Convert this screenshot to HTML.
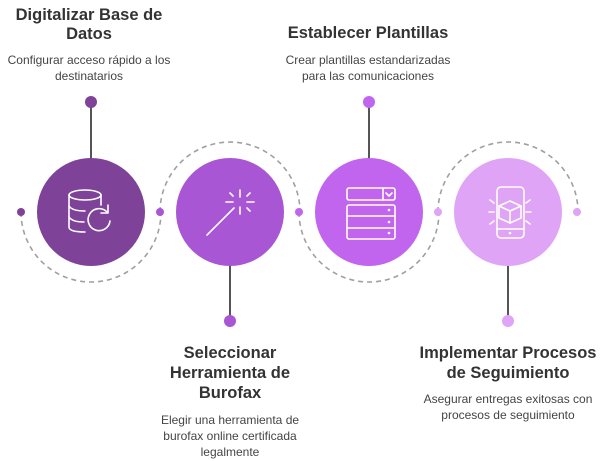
<!DOCTYPE html>
<html><head><meta charset="utf-8"><style>
html,body{margin:0;padding:0;background:#fff;}
svg{display:block;font-family:"Liberation Sans",sans-serif;}
.t{font-size:16.5px;font-weight:bold;fill:#333;text-anchor:middle;}
.d{font-size:12px;fill:#444;text-anchor:middle;}
.ic{fill:none;stroke:#fff;stroke-width:1.6;stroke-linecap:round;stroke-linejoin:round;}
</style></head><body>
<svg width="600" height="461" viewBox="0 0 600 461">
<g fill="none" stroke="#a0a0a0" stroke-width="1.6" stroke-dasharray="5,4">
<path d="M21 212 A70 70 0 0 0 161 212"/>
<path d="M160 212 A70 70 0 0 1 300 212"/>
<path d="M299 212 A70 70 0 0 0 439 212"/>
<path d="M438 212 A70 70 0 0 1 578 212"/>
</g>
<g stroke="#555" stroke-width="2">
<line x1="91" y1="102" x2="91" y2="160"/>
<line x1="230" y1="264" x2="230" y2="320"/>
<line x1="369" y1="102" x2="369" y2="160"/>
<line x1="508" y1="264" x2="508" y2="320"/>
</g>
<circle cx="91" cy="212" r="54" fill="#7e4399"/>
<circle cx="230" cy="212" r="54" fill="#a956d5"/>
<circle cx="369" cy="212" r="54" fill="#c165ef"/>
<circle cx="508" cy="212" r="54" fill="#dfa4f6"/>
<circle cx="21" cy="212" r="4" fill="#7e4399"/>
<circle cx="160" cy="212" r="4" fill="#a956d5"/>
<circle cx="299" cy="212" r="4" fill="#c165ef"/>
<circle cx="438" cy="212" r="4" fill="#dfa4f6"/>
<circle cx="577" cy="212" r="4" fill="#dfa4f6"/>
<circle cx="91" cy="102" r="6" fill="#7e4399"/>
<circle cx="230" cy="321" r="6" fill="#a956d5"/>
<circle cx="369" cy="102" r="6" fill="#c165ef"/>
<circle cx="508" cy="321" r="6" fill="#dfa4f6"/>
<!-- icon 1 database -->
<g class="ic">
<ellipse cx="85" cy="195" rx="16" ry="5"/>
<path d="M69 195 V227 Q69 232 85 232"/>
<path d="M101 195 V205"/>
<path d="M69 206 Q72 211 85 211"/>
<path d="M69 217 Q72 222 84 222"/>
<path d="M110 221 A11 11 0 1 1 107 212"/>
<path d="M108 205 L108 213 L101 213"/>
</g>
<!-- icon 2 wand -->
<g class="ic">
<line x1="207" y1="235" x2="234" y2="208"/>
<line x1="240" y1="190" x2="240" y2="197"/>
<line x1="226" y1="202" x2="233" y2="202"/>
<line x1="247" y1="202" x2="254" y2="202"/>
<line x1="240" y1="207" x2="240" y2="214"/>
<line x1="230" y1="193" x2="233" y2="196"/>
<line x1="250" y1="193" x2="247" y2="196"/>
<line x1="247" y1="208" x2="250" y2="211"/>
</g>
<!-- icon 3 form -->
<g class="ic">
<rect x="347" y="188" width="48" height="12" rx="2"/>
<line x1="383" y1="188" x2="383" y2="200"/>
<path d="M386 193 L389 196 L392 193"/>
<rect x="347" y="205" width="48" height="34" rx="2"/>
<line x1="347" y1="216" x2="395" y2="216"/>
<line x1="347" y1="228" x2="395" y2="228"/>
</g>
<g fill="#fff"><circle cx="389" cy="210" r="1.3"/><circle cx="389" cy="222" r="1.3"/><circle cx="389" cy="233" r="1.3"/></g>
<!-- icon 4 phone box -->
<g class="ic">
<rect x="497" y="187" width="27" height="51" rx="4"/>
<line x1="497" y1="229" x2="524" y2="229"/>
<path d="M499 206 L510 201 L521 206 L521 218 L510 223 L499 218 Z"/>
<path d="M499 206 L510 211 L521 206 M510 211 V223"/>
<line x1="489" y1="212" x2="494" y2="212"/><line x1="526" y1="212" x2="531" y2="212"/>
<line x1="490" y1="200" x2="494" y2="203"/><line x1="530" y1="200" x2="526" y2="203"/>
<line x1="490" y1="224" x2="494" y2="221"/><line x1="530" y1="224" x2="526" y2="221"/>
</g>
<circle cx="510" cy="233" r="1.3" fill="#fff"/>
<!-- text -->
<text class="t" x="89" y="20">Digitalizar Base de</text>
<text class="t" x="89" y="39">Datos</text>
<text class="d" x="89" y="64">Configurar acceso rápido a los</text>
<text class="d" x="89" y="80">destinatarios</text>
<text class="t" x="368" y="38">Establecer Plantillas</text>
<text class="d" x="368" y="64">Crear plantillas estandarizadas</text>
<text class="d" x="368" y="80">para las comunicaciones</text>
<text class="t" x="230" y="358">Seleccionar</text>
<text class="t" x="230" y="378">Herramienta de</text>
<text class="t" x="230" y="398">Burofax</text>
<text class="d" x="230" y="424">Elegir una herramienta de</text>
<text class="d" x="230" y="440">burofax online certificada</text>
<text class="d" x="230" y="456">legalmente</text>
<text class="t" x="508" y="358">Implementar Procesos</text>
<text class="t" x="508" y="378">de Seguimiento</text>
<text class="d" x="508" y="403">Asegurar entregas exitosas con</text>
<text class="d" x="508" y="419">procesos de seguimiento</text>
</svg>
</body></html>
